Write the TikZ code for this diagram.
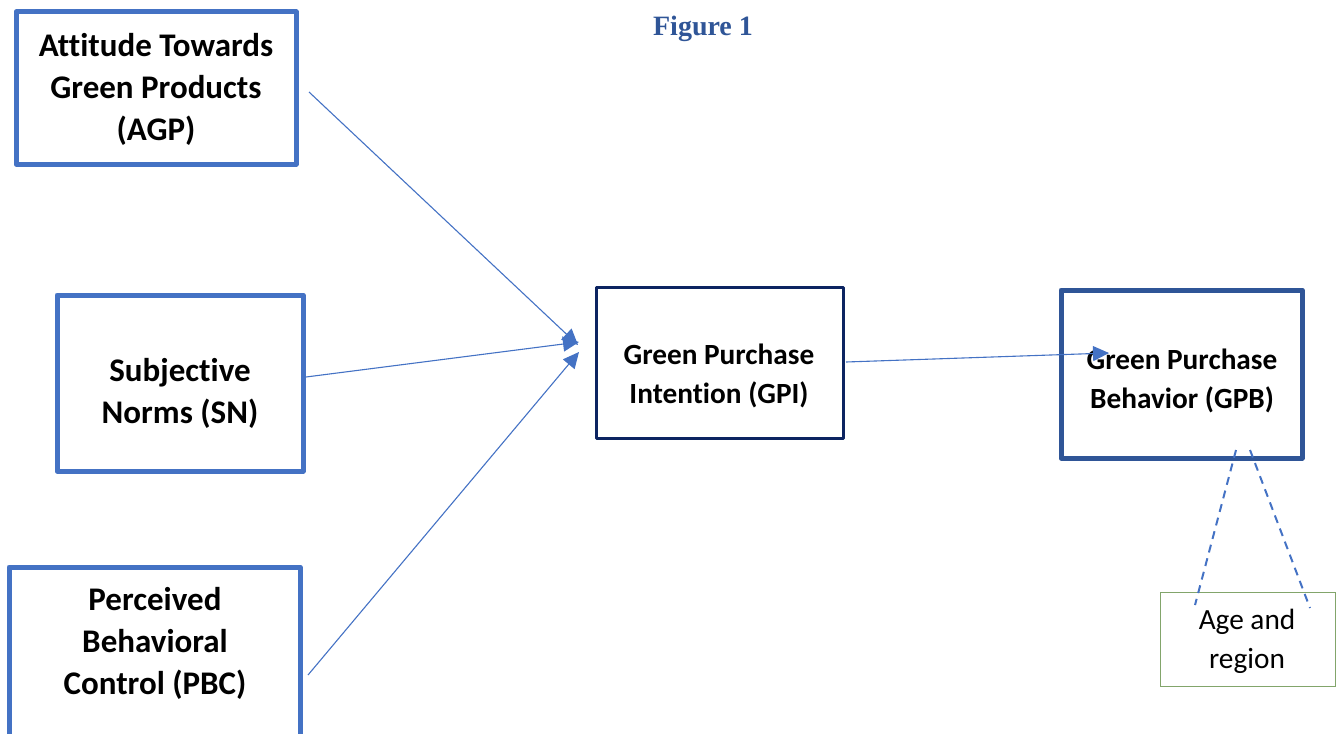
\documentclass[tikz,border=0pt]{standalone}
\usepackage{fontspec}
\setmainfont{Carlito}[Ligatures=NoCommon]
\newfontfamily\titlefont{Liberation Serif}
\usetikzlibrary{arrows.meta}
\definecolor{boxblue}{HTML}{4472C4}
\definecolor{darkblue}{HTML}{2F5597}
\definecolor{navy}{HTML}{0C2461}
\definecolor{agegreen}{HTML}{82A56B}
\tikzset{
  outerbox/.style={draw=boxblue, line width=5pt, line join=round, fill=none},
  lbl/.style={align=center, font=\bfseries\fontsize{33}{42}\selectfont, inner sep=0pt},
  lblb/.style={align=center, font=\bfseries\fontsize{29.3}{38.5}\selectfont, inner sep=0pt},
  link/.style={draw=boxblue, line width=1.1pt, -{Triangle[length=16pt,width=15pt]}},
  moder/.style={draw=boxblue, line width=2pt, dash pattern=on 8pt off 6pt},
}
\begin{document}
\begin{tikzpicture}[x=1pt,y=-1pt]
\useasboundingbox (0,0) rectangle (1337,733);
\clip (0,0) rectangle (1337,733);
% title
\node[font=\titlefont\bfseries\fontsize{28}{32}\selectfont, text=darkblue, inner sep=0pt] (title) at (703,29) {Figure 1};
% boxes
\draw[outerbox] (16,12) rectangle (296,164);
\node[inner sep=0pt, minimum width=280pt, minimum height=152pt] (agp) at (156,88) {};
\draw[outerbox] (57,295) rectangle (303,471);
\node[inner sep=0pt, minimum width=246pt, minimum height=176pt] (sn) at (180,383) {};
\draw[outerbox] (9,567) rectangle (300,760);
\node[inner sep=0pt, minimum width=291pt, minimum height=193pt] (pbc) at (155,663) {};
\draw[draw=navy, line width=3pt, line join=round] (596,287) rectangle (843,438);
\node[inner sep=0pt, minimum width=247pt, minimum height=151pt] (gpi) at (719,362) {};
\draw[draw=darkblue, line width=5pt, line join=round] (1061,290) rectangle (1302,458);
\node[inner sep=0pt, minimum width=241pt, minimum height=168pt] (gpb) at (1182,374) {};
\draw[draw=agegreen, line width=1pt] (1160,592) rectangle (1335,686);
\node[inner sep=0pt, minimum width=175pt, minimum height=94pt] (age) at (1247,639) {};
% texts
\node[lbl] (tagp) at (156,89) {Attitude Towards\\Green Products\\(AGP)};
\node[lbl] (tsn) at (180,393) {Subjective\\Norms (SN)};
\node[lbl] (tpbc) at (155,643) {Perceived\\Behavioral\\Control (PBC)};
\node[lblb] (tgpi) at (719,376) {Green Purchase\\Intention (GPI)};
\node[lblb] (tgpb) at (1182,381) {Green Purchase\\Behavior (GPB)};
\node[align=center, font=\fontsize{29.3}{39}\selectfont, inner sep=0pt] (tage) at (1247,641) {Age and\\region};
% connector end points
\coordinate (a1) at (309,92);
\coordinate (a2) at (578,345);
\coordinate (s1) at (306,377);
\coordinate (s2) at (579,342);
\coordinate (p1) at (308,675);
\coordinate (p2) at (579,352);
\coordinate (g1) at (846,362);
\coordinate (g2) at (1109,353);
\coordinate (d1) at (1236,450);
\coordinate (d2) at (1195,605);
\coordinate (e1) at (1250,450);
\coordinate (e2) at (1310,608);
\draw[link] (a1) -- (a2);
\draw[link] (s1) -- (s2);
\draw[link] (p1) -- (p2);
\draw[link] (g1) -- (g2);
\draw[moder] (d1) -- (d2);
\draw[moder] (e1) -- (e2);
\end{tikzpicture}
\end{document}
